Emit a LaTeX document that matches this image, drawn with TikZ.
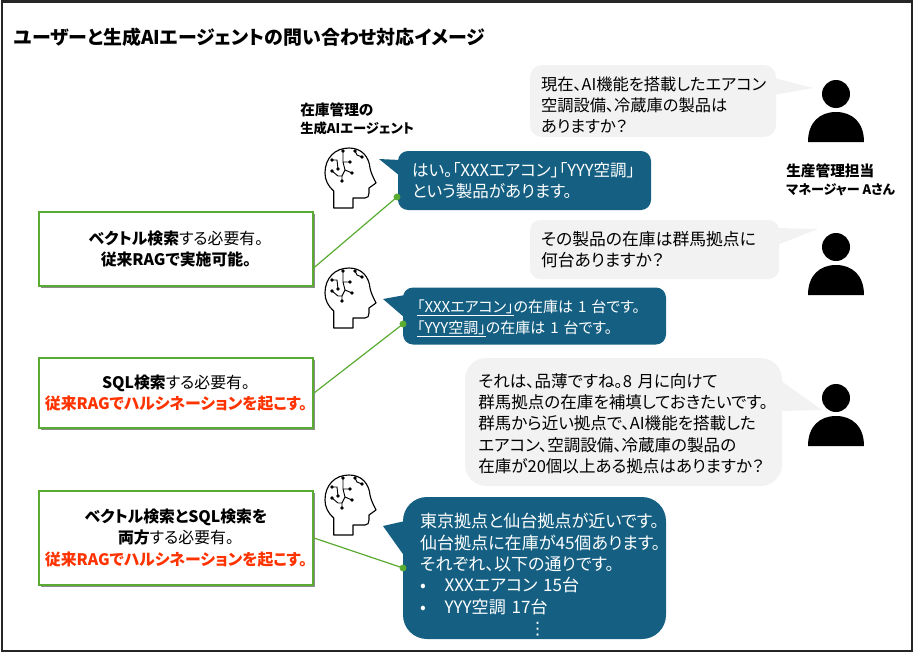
\documentclass[tikz,border=0pt]{standalone}
\usepackage{fontspec}
\setmainfont{Noto Sans CJK JP}[RawFeature={+palt}]
\newfontfamily\symfont{DejaVu Sans}
\usepackage{xcolor}
\usetikzlibrary{shadows}
\definecolor{bubbleblue}{HTML}{156082}
\definecolor{bubblegray}{HTML}{F2F2F2}
\definecolor{notegreen}{HTML}{5AAB32}
\definecolor{warnred}{HTML}{FF3300}
\newcommand{\warn}[1]{\textcolor{warnred}{\textbf{#1}}}
% left margin of a bubble text, and a taller first line to push the text down
\newcommand{\lm}[1]{\leftskip=#1\relax}
\newcommand{\pad}[1]{\rule{0pt}{#1}}

\begin{document}
\begin{tikzpicture}[x=0.75pt,y=-0.75pt,
  label/.style={font=\fontsize{11pt}{13.2pt}\selectfont\bfseries, align=left, inner sep=0pt},
  grayb/.style={fill=bubblegray, text=black, align=left, inner xsep=2pt, inner ysep=0pt,
    font=\fontsize{12.4pt}{15.9pt}\selectfont},
  blueb/.style={fill=bubbleblue, text=white, align=left, inner xsep=2pt, inner ysep=0pt,
    font=\fontsize{12.4pt}{15.9pt}\selectfont},
  note/.style={draw=notegreen, line width=1.5pt, fill=white, align=center, inner sep=0pt,
    text width=205.5pt, drop shadow={shadow xshift=1.5pt, shadow yshift=-1.5pt, opacity=.45, fill=black},
    font=\fontsize{11.9pt}{16pt}\selectfont},
  link/.style={draw=notegreen, line width=0.9pt},
  linkdot/.style={circle, fill=notegreen, inner sep=0pt, minimum size=5.2pt}]
\useasboundingbox (0,0) rectangle (915,653);
% ================= frame and title =================
\draw[line width=1.5pt, black!85] (2,1.5) rectangle (912,651);
\node[font=\fontsize{14.2pt}{17pt}\selectfont\bfseries, anchor=west, inner sep=0pt] (title) at (14,37)
  {ユーザーと生成AIエージェントの問い合わせ対応イメージ};
% ================= user side =================
% bubble tails
\fill[bubblegray] (774,78) -- (813,88) -- (774,95) -- cycle;
\fill[bubblegray] (777,228) -- (818,229) -- (777,245) -- cycle;
\fill[bubblegray] (780,380) -- (822,410) -- (780,411) -- cycle;
\node[grayb, rounded corners=9pt, text width=180.5pt, minimum height=54pt,
  font=\fontsize{12.2pt}{15.9pt}\selectfont] (askA) at (653,101)
  {\lm{6.25pt}\pad{16pt}現在、AI機能を搭載したエアコン\\空調設備、冷蔵庫の製品は\\ありますか？\par};
\node[grayb, rounded corners=7.5pt, text width=182.75pt, minimum height=44.25pt,
  font=\fontsize{12.6pt}{15.9pt}\selectfont] (askB) at (654.5,249.5)
  {\lm{6.25pt}その製品の在庫は群馬拠点に\\何台ありますか？\par};
\node[grayb, rounded corners=16pt, text width=233.75pt, minimum height=96pt] (askC) at (623.5,422)
  {\lm{8pt}\pad{13pt}それは、品薄ですね。8 月に向けて\\群馬拠点の在庫を補填しておきたいです。\\群馬から近い拠点で、AI機能を搭載した\\エアコン、空調設備、冷蔵庫の製品の\\在庫が20個以上ある拠点はありますか？\par};
% persons
\foreach \y in {94,247,398} {
  \fill (836,\y) circle (14);
  \fill (808,\y+48) .. controls (808,\y+28) and (820,\y+18) .. (836,\y+18)
    .. controls (852,\y+18) and (864,\y+28) .. (864,\y+48) -- cycle;
}
\node[label, anchor=west] (userlabel) at (786,180)
  {生産管理担当\\{\fontsize{9.8pt}{13.2pt}\selectfont マネージャー Aさん}};
% ================= agent side =================
\node[label, anchor=west] (agentlabel) at (300,119)
  {在庫管理の\\{\fontsize{10pt}{13.2pt}\selectfont 生成AIエージェント}};
% heads
\foreach \y in {148,268,475} {
\begin{scope}[shift={(325,\y)}]
  \draw[line width=0.85pt, line join=round] (8.7,60) -- (8.7,43) .. controls (3,38) and (0,32) .. (0,25)
    .. controls (0,10) and (10,0) .. (24,0) .. controls (37,0) and (44,9) .. (45,20)
    .. controls (46,25) and (48,29) .. (51,35) -- (44,40) -- (44,45)
    .. controls (44,48) and (43,50) .. (40,50) -- (28,50) -- (28,60) -- cycle;
  \draw[line width=0.7pt] (7,12) -- (12,12) -- (13,21) (18,3) -- (18,14) -- (25,14)
    (30,3) -- (32,7) -- (37,9) (7,23) -- (13,28) -- (17,28) -- (17,33)
    (17,28) -- (20,22) -- (27,25) (20,22) -- (18,14);
  \foreach \a/\b in {7/12,13/21,18/3,25/14,30/3,37/9,7/23,17/33,27/25}
    \fill (\a,\b) circle (1.9);
\end{scope}
}
% bubble tails
\fill[bubbleblue] (400,160) -- (379,159) -- (400,176) -- cycle;
\fill[bubbleblue] (405,295) -- (383,299) -- (405,318) -- cycle;
\fill[bubbleblue] (405,521) -- (383,526) -- (405,557) -- cycle;
\node[blueb, rounded corners=7.5pt, text width=185.75pt, minimum height=44.25pt] (ansA) at (524.5,180.5)
  {\lm{8.5pt}はい。「XXXエアコン」「YYY空調」\\という製品があります。\par};
\node[blueb, rounded corners=7.5pt, text width=193.25pt, minimum height=42.75pt,
  font=\fontsize{11.25pt}{15.9pt}\selectfont] (ansB) at (534.5,316)
  {\lm{8.5pt}\pad{13pt}\underline{「XXXエアコン」}の在庫は 1 台です。\\\underline{「YYY空調」}の在庫は 1 台です。\par};
\node[blueb, rounded corners=18pt, text width=193.25pt, minimum height=106.5pt,
  font=\fontsize{12.8pt}{16pt}\selectfont] (ansC) at (534.5,568)
  {\lm{10.75pt}\pad{21pt}東京拠点と仙台拠点が近いです。\\仙台拠点に在庫が45個あります。\\それぞれ、以下の通りです。\\
   •\hspace{1.1em}XXXエアコン 15台\\•\hspace{1.1em}YYY空調 17台\\\hspace*{6.4em}{\symfont ⋮}\par};
% ================= notes and links =================
\node[note, minimum height=55.5pt] (noteA) at (176,249)
  {\textbf{ベクトル検索}する必要有。\\\textbf{従来RAGで実施可能。}};
\node[note, minimum height=52.5pt] (noteB) at (176,393)
  {\textbf{SQL検索}する必要有。\\\warn{従来RAGでハルシネーションを起こす。}};
\node[note, minimum height=70.5pt] (noteC) at (176,538)
  {\textbf{ベクトル検索とSQL検索を}\\\textbf{両方}する必要有。\\\warn{従来RAGでハルシネーションを起こす。}};
\node[linkdot] (dotA) at (397,197) {};
\node[linkdot] (dotB) at (403,324) {};
\node[linkdot] (dotC) at (403,568) {};
\draw[link] ([yshift=-14pt]noteA.east) -- (dotA.center);
\draw[link] (noteB.east) -- (dotB.center);
\draw[link] (noteC.east) -- (dotC.center);
\end{tikzpicture}
\end{document}
